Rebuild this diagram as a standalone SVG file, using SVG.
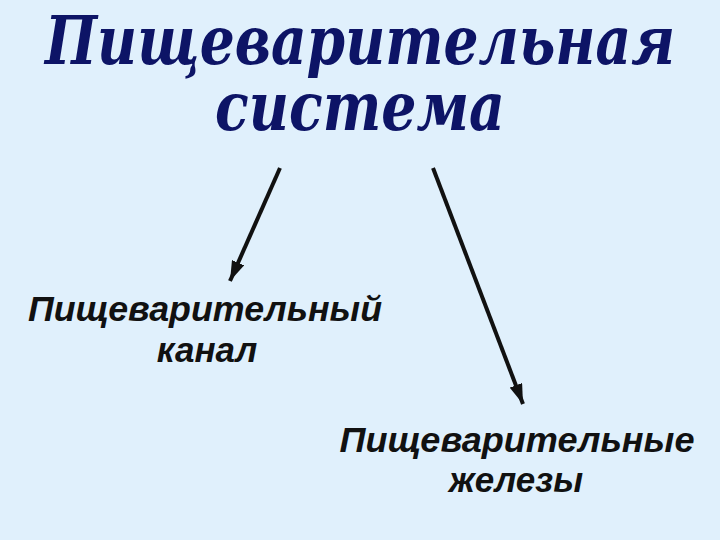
<svg xmlns="http://www.w3.org/2000/svg" width="720" height="540" viewBox="0 0 720 540">
<defs>
<style>
.title{font-family:"DejaVu Serif","Liberation Serif",serif;font-weight:bold;font-style:italic;font-size:67px;fill:#0d1466;text-anchor:middle}
.lbl{font-family:"Liberation Sans",Arial,sans-serif;font-weight:bold;font-style:italic;font-size:35px;fill:#111111;text-anchor:middle}
.conn{stroke:#111111;stroke-width:4;fill:none}
</style>
<marker id="ah" viewBox="0 0 18 12" refX="18" refY="6" markerWidth="5" markerHeight="3.4" markerUnits="strokeWidth" orient="auto">
<path d="M0,0 L18,6 L0,12 Z" fill="#111111"/>
</marker>
</defs>
<rect width="720" height="540" fill="#e0f0fc"/>
<g id="title">
<text class="title" x="360" y="64" textLength="630" lengthAdjust="spacingAndGlyphs">Пищеварительная</text>
<text class="title" x="360" y="130" textLength="290" lengthAdjust="spacingAndGlyphs">система</text>
</g>
<g id="connectors">
<line class="conn" x1="280" y1="168" x2="230" y2="281" marker-end="url(#ah)"/>
<line class="conn" x1="433" y1="168" x2="523" y2="404" marker-end="url(#ah)"/>
</g>
<g id="canal">
<text class="lbl" x="205" y="321" textLength="354" lengthAdjust="spacingAndGlyphs">Пищеварительный</text>
<text class="lbl" x="207" y="362">канал</text>
</g>
<g id="glands">
<text class="lbl" x="517" y="452" textLength="355" lengthAdjust="spacingAndGlyphs">Пищеварительные</text>
<text class="lbl" x="516" y="492">железы</text>
</g>
</svg>
